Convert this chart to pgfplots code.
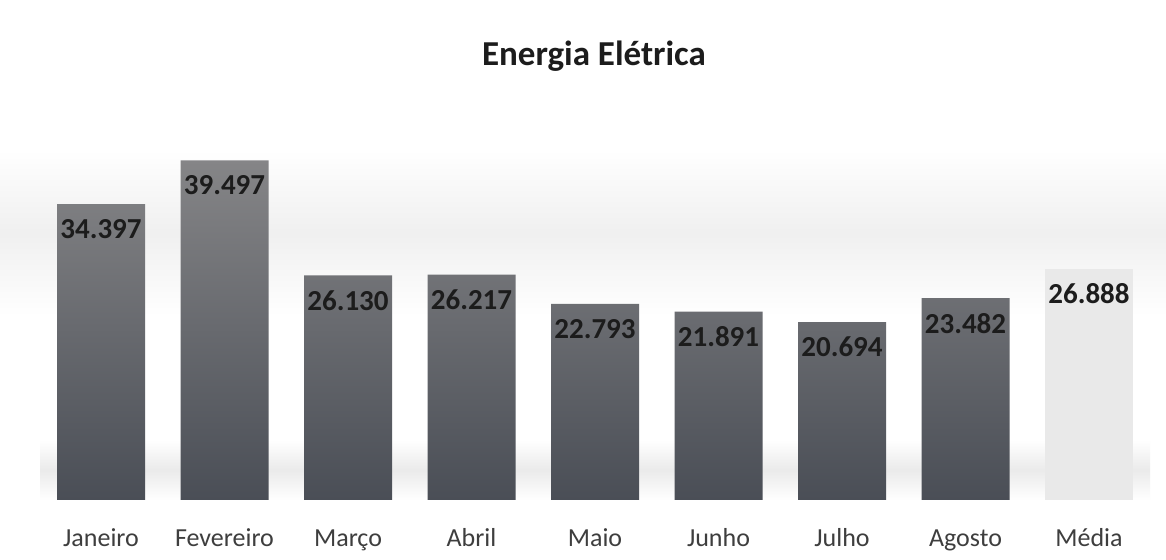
\documentclass[border=0pt]{standalone}
\usepackage{fontspec}
\setmainfont{Carlito}
\usepackage{pgfplots}
\pgfplotsset{compat=1.18}
\definecolor{bartop}{HTML}{858587}
\definecolor{barbot}{HTML}{4A4E56}
\definecolor{mediafill}{HTML}{E9E9E9}
\definecolor{txt}{HTML}{1C1C1C}
\begin{document}
\begin{tikzpicture}[x=1pt,y=1pt]
% canvas 583pt x 280pt (1px = 0.5pt), y up
\path[use as bounding box, fill=white] (0pt,0pt) rectangle (583pt,280pt);
\shade[top color=white, bottom color=white, middle color=gray!12] (0pt,122pt) rectangle (583pt,205pt);
\shade[top color=white, bottom color=white, middle color=gray!16] (20pt,30pt) rectangle (575pt,60pt);
\node[font=\bfseries\fontsize{17.5}{20}\selectfont, text=txt] at (297pt,252pt) {Energia Elétrica};
\begin{axis}[
  at={(50.5pt,30pt)}, anchor=origin,
  scale only axis, width=555.75pt, height=193.5pt,
  xmin=-0.5, xmax=8.5, ymin=0, ymax=45000,
  axis lines=none,
  clip=false,
  xtick=\empty, ytick=\empty,
  bar width=44pt,
  nodes near coords,
  every node near coord/.append style={anchor=north, yshift=-4pt, font=\bfseries\fontsize{14.5}{16}\selectfont, text=txt},
  /pgf/number format/.cd, fixed, 1000 sep={.}, assume math mode=true,
]
\addplot[ybar, bar shift=0pt, draw=none, top color=bartop, bottom color=barbot] coordinates {
 (0,34397) (1,39497) (2,26130) (3,26217) (4,22793) (5,21891) (6,20694) (7,23482)};
\addplot[ybar, bar shift=0pt, draw=none, fill=mediafill] coordinates {(8,26888)};
\foreach \i/\n in {0/Janeiro,1/Fevereiro,2/Março,3/Abril,4/Maio,5/Junho,6/Julho,7/Agosto,8/Média} {
  \edef\tmp{\noexpand\node[anchor=base, font=\noexpand\fontsize{13}{15}\noexpand\selectfont, text=txt!85] at (axis cs:\i,0) [yshift=-23.5pt] {\n};}
  \tmp
}
\end{axis}
\end{tikzpicture}
\end{document}
